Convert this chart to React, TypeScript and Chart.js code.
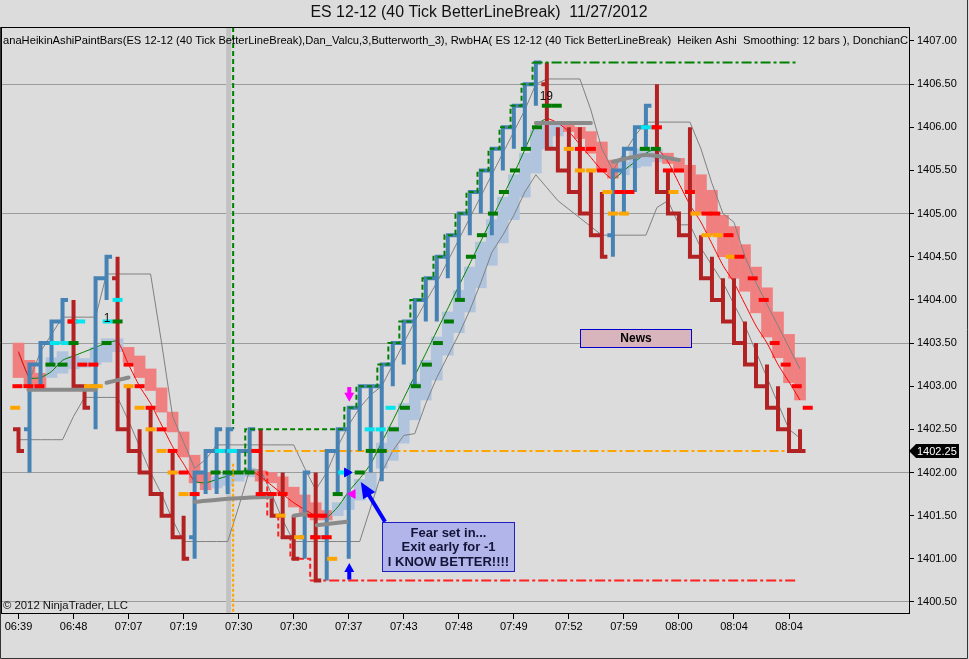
import React, { useEffect, useRef } from "react";
import { Chart, registerables } from "chart.js";

Chart.register(...registerables);

const FONT = '"Liberation Sans", Arial, sans-serif';
const BG = "#DCDCDC";

const X_MIN = -1.59;
const X_MAX = 80.9;
const Y_MIN = 1400.372;
const Y_MAX = 1407.162;

const TITLE = "ES 12-12 (40 Tick BetterLineBreak)  11/27/2012";
const CAPTION =
  "anaHeikinAshiPaintBars(ES 12-12 (40 Tick BetterLineBreak),Dan_Valcu,3,Butterworth_3), RwbHA( ES 12-12 (40 Tick BetterLineBreak)  Heiken Ashi  Smoothing: 12 bars ), DonchianC";
const COPYRIGHT = "\u00A9 2012 NinjaTrader, LLC";

const timeLabels = ["06:39", "06:48", "07:07", "07:19", "07:30", "07:30", "07:37", "07:43", "07:48", "07:49", "07:52", "07:59", "08:00", "08:04", "08:04"];
const timeTickBars = [0, 5, 10, 15, 20, 25, 30, 35, 40, 45, 50, 55, 60, 65, 70];
const priceTicks = [1400.5, 1401.0, 1401.5, 1402.0, 1402.5, 1403.0, 1403.5, 1404.0, 1404.5, 1405.0, 1405.5, 1406.0, 1406.5, 1407.0];
const gridPrices = [1400.5, 1402.0, 1403.5, 1405.0, 1406.5];
const lastPrice = 1402.25;

// Line-break bars (OHLC)
const barOpen = [
  1402.5, 1402.5, 1403.25, 1403.5, 1403.75, 1403.75, 1403.0, 1403.0, 1404.25, 1404.25,
  1402.5, 1402.25, 1402.0, 1401.75, 1401.5, 1401.25, 1401.25, 1402.0, 1402.25, 1402.25,
  1402.25, 1402.25, 1402.25, 1401.75, 1401.5, 1401.25, 1401.25, 1401.25, 1401.25, 1402.25,
  1402.5, 1402.75, 1403.0, 1403.0, 1403.25, 1403.5, 1403.75, 1404.0, 1404.25, 1404.5,
  1404.75, 1405.0, 1405.25, 1405.5, 1405.75, 1406.0, 1406.25, 1406.5, 1406.5, 1405.75,
  1405.5, 1405.25, 1405.0, 1404.75, 1404.75, 1405.5, 1405.75, 1406.0, 1406.0, 1405.25,
  1405.0, 1404.75, 1404.5, 1404.25, 1404.0, 1403.75, 1403.5, 1403.25, 1403.0, 1402.75,
  1402.5, 1402.25,
];
const barHigh = [
  1402.5, 1403.25, 1403.5, 1403.75, 1404.0, 1404.0, 1403.0, 1404.25, 1404.5, 1404.5,
  1403.0, 1402.5, 1402.75, 1401.75, 1402.25, 1401.5, 1402.0, 1402.25, 1402.5, 1402.5,
  1402.25, 1402.5, 1402.5, 1401.75, 1402.0, 1401.5, 1402.0, 1402.0, 1402.25, 1402.5,
  1402.75, 1403.0, 1403.0, 1403.25, 1403.5, 1403.75, 1404.0, 1404.25, 1404.5, 1404.75,
  1405.0, 1405.25, 1405.5, 1405.75, 1406.0, 1406.25, 1406.5, 1406.75, 1406.75, 1406.0,
  1406.0, 1406.0, 1405.5, 1405.25, 1405.5, 1405.75, 1406.0, 1406.25, 1406.5, 1405.5,
  1405.0, 1406.0, 1404.75, 1404.5, 1404.25, 1404.25, 1403.75, 1403.5, 1403.25, 1403.0,
  1402.75, 1402.5,
];
const barLow = [
  1402.25, 1402.0, 1403.0, 1403.25, 1403.5, 1403.0, 1402.75, 1402.5, 1404.0, 1402.5,
  1402.25, 1402.0, 1401.75, 1401.5, 1401.25, 1401.0, 1401.0, 1401.75, 1401.75, 1401.75,
  1402.0, 1402.0, 1401.75, 1401.5, 1401.25, 1401.0, 1401.0, 1400.75, 1400.75, 1401.75,
  1401.0, 1402.25, 1402.0, 1401.9, 1403.0, 1403.25, 1403.0, 1403.75, 1403.75, 1404.25,
  1404.0, 1404.75, 1405.0, 1404.75, 1405.5, 1405.75, 1405.75, 1406.25, 1405.75, 1405.5,
  1405.25, 1405.0, 1404.75, 1404.5, 1404.5, 1405.0, 1405.25, 1405.75, 1405.25, 1405.0,
  1404.75, 1404.5, 1404.25, 1404.0, 1403.75, 1403.5, 1403.25, 1403.0, 1402.75, 1402.5,
  1402.25, 1402.25,
];
const barClose = [
  1402.25, 1403.25, 1403.5, 1403.75, 1404.0, 1403.0, 1402.75, 1404.25, 1404.5, 1402.5,
  1402.25, 1402.0, 1401.75, 1401.5, 1401.25, 1401.0, 1402.0, 1402.25, 1402.5, 1402.5,
  1402.25, 1402.5, 1401.75, 1401.5, 1401.25, 1401.0, 1402.0, 1400.75, 1402.25, 1402.5,
  1402.75, 1403.0, 1403.0, 1403.25, 1403.5, 1403.75, 1404.0, 1404.25, 1404.5, 1404.75,
  1405.0, 1405.25, 1405.5, 1405.75, 1406.0, 1406.25, 1406.5, 1406.75, 1405.75, 1405.5,
  1405.25, 1405.0, 1404.75, 1404.5, 1405.5, 1405.75, 1406.0, 1406.25, 1405.25, 1405.0,
  1404.75, 1404.5, 1404.25, 1404.0, 1403.75, 1403.5, 1403.25, 1403.0, 1402.75, 1402.5,
  1402.25, 1402.25,
];
const barUp = [
  0, 1, 1, 1, 1, 0, 0, 1, 1, 0,
  0, 0, 0, 0, 0, 0, 1, 1, 1, 1,
  1, 1, 0, 0, 0, 0, 1, 0, 1, 1,
  1, 1, 1, 1, 1, 1, 1, 1, 1, 1,
  1, 1, 1, 1, 1, 1, 1, 1, 0, 0,
  0, 0, 0, 0, 1, 1, 1, 1, 0, 0,
  0, 0, 0, 0, 0, 0, 0, 0, 0, 0,
  0, 0,
];

// Smoothed Heiken Ashi boxes
const haLow = [
  1403.1, 1403.0, 1402.95, 1403.1, 1403.15, 1403.2, 1403.22, 1403.25, 1403.28, 1403.4,
  1403.28, 1403.1, 1402.95, 1402.7, 1402.47, 1402.18, 1401.88, 1401.8, 1401.82, 1401.85,
  1401.9, 1401.95, 1401.9, 1401.88, 1401.75, 1401.6, 1401.53, 1401.45, 1401.45, 1401.5,
  1401.57, 1401.68, 1401.76, 1402.05, 1402.14, 1402.34, 1402.61, 1402.84, 1403.07, 1403.36,
  1403.62, 1403.86, 1404.14, 1404.4, 1404.66, 1404.93, 1405.19, 1405.47, 1405.75, 1405.9,
  1405.95, 1405.87, 1405.7, 1405.5, 1405.41, 1405.45, 1405.53, 1405.55, 1405.6, 1405.58,
  1405.48, 1405.27, 1405.0, 1404.75, 1404.5, 1404.25, 1404.1, 1403.85, 1403.57, 1403.33,
  1403.04, 1402.84,
];
const haHigh = [
  1403.5, 1403.3, 1403.15, 1403.33, 1403.4, 1403.35, 1403.32, 1403.45, 1403.55, 1403.55,
  1403.45, 1403.35, 1403.2, 1402.98, 1402.7, 1402.47, 1402.2, 1402.0, 1401.95, 1401.98,
  1402.0, 1402.05, 1402.02, 1402.0, 1401.95, 1401.83, 1401.74, 1401.65, 1401.56, 1401.65,
  1401.72, 1401.92, 1401.99, 1402.34, 1402.53, 1402.8, 1403.04, 1403.3, 1403.57, 1403.86,
  1404.11, 1404.38, 1404.67, 1404.93, 1405.19, 1405.45, 1405.7, 1405.97, 1406.05, 1406.05,
  1406.05, 1406.0, 1405.95, 1405.83, 1405.62, 1405.6, 1405.75, 1405.77, 1405.75, 1405.7,
  1405.64, 1405.56, 1405.45, 1405.27, 1404.98, 1404.85, 1404.64, 1404.38, 1404.14, 1403.86,
  1403.6, 1403.33,
];
const haUp = [
  0, 0, 0, 1, 1, 1, 1, 1, 1, 1,
  0, 0, 0, 0, 0, 0, 0, 0, 1, 1,
  1, 1, 0, 0, 0, 0, 0, 0, 0, 1,
  1, 1, 1, 1, 1, 1, 1, 1, 1, 1,
  1, 1, 1, 1, 1, 1, 1, 1, 1, 1,
  0, 0, 0, 0, 0, 1, 1, 1, 1, 0,
  0, 0, 0, 0, 0, 0, 0, 0, 0, 0,
  0, 0,
];

// Donchian channel
const donchianUpper = [
  1403.38, 1403.07, 1403.4, 1403.6, 1403.8, 1403.8, 1403.8, 1403.8, 1404.3, 1404.3,
  1404.3, 1404.3, 1404.3, 1403.5, 1402.65, 1402.35, 1402.05, 1402.15, 1402.32, 1402.32,
  1402.32, 1402.32, 1402.32, 1402.32, 1402.32, 1402.32, 1402.05, 1401.8, 1402.0, 1402.3,
  1402.55, 1402.75, 1402.9, 1403.0, 1403.25, 1403.5, 1403.75, 1403.98, 1404.2, 1404.45,
  1404.7, 1404.95, 1405.2, 1405.45, 1405.7, 1405.95, 1406.2, 1406.5, 1406.56, 1406.56,
  1406.56, 1406.56, 1406.2, 1405.75, 1405.5, 1405.7, 1405.9, 1406.06, 1406.06, 1406.06,
  1406.06, 1406.06, 1405.75, 1405.35, 1405.0, 1404.9, 1404.5, 1404.2, 1403.95, 1403.7,
  1403.45, 1403.2,
];
const donchianLower = [
  1402.38, 1402.38, 1402.38, 1402.38, 1402.38, 1402.65, 1402.87, 1402.87, 1402.87, 1402.87,
  1402.6, 1402.3, 1402.0, 1401.75, 1401.45, 1401.2, 1401.2, 1401.2, 1401.2, 1401.2,
  1401.6, 1402.03, 1402.03, 1401.75, 1401.45, 1401.2, 1401.2, 1401.2, 1401.2, 1401.2,
  1401.2, 1401.2, 1401.6, 1402.0, 1402.25, 1402.43, 1402.45, 1402.8, 1403.1, 1403.35,
  1403.6, 1403.88, 1404.2, 1404.55, 1404.75, 1404.98, 1405.25, 1405.45, 1405.3, 1405.15,
  1405.05, 1404.95, 1404.85, 1404.75, 1404.75, 1404.75, 1404.75, 1404.75, 1405.07, 1405.15,
  1404.87, 1404.87, 1404.6, 1404.4, 1404.2, 1403.95, 1403.7, 1403.4, 1403.1, 1402.8,
  1402.5, 1402.4,
];

// Butterworth smoothing line
const maValues = [
  1403.4, 1403.1, 1403.1, 1403.17, 1403.3, 1403.35, 1403.4, 1403.45, 1403.5, 1403.52,
  1403.25, 1403.0, 1402.8, 1402.55, 1402.3, 1402.1, 1401.9, 1401.88, 1401.92, 1401.96,
  1402.0, 1402.03, 1401.95, 1401.85, 1401.75, 1401.65, 1401.57, 1401.5, 1401.48, 1401.6,
  1401.78, 1401.93, 1402.1, 1402.35, 1402.6, 1402.86, 1403.12, 1403.38, 1403.64, 1403.9,
  1404.16, 1404.42, 1404.68, 1404.94, 1405.2, 1405.46, 1405.74, 1406.02, 1406.1, 1406.05,
  1405.95, 1405.8, 1405.65, 1405.5, 1405.4, 1405.5, 1405.6, 1405.7, 1405.75, 1405.6,
  1405.35, 1405.1, 1404.9, 1404.65, 1404.4, 1404.2, 1403.95, 1403.7, 1403.5, 1403.25,
  1403.05, 1402.84,
];
const maUp = [
  0, 0, 1, 1, 1, 1, 1, 1, 1, 1,
  0, 0, 0, 0, 0, 0, 0, 1, 1, 1,
  1, 1, 0, 0, 0, 0, 0, 0, 0, 1,
  1, 1, 1, 1, 1, 1, 1, 1, 1, 1,
  1, 1, 1, 1, 1, 1, 1, 1, 1, 0,
  0, 0, 0, 0, 0, 1, 1, 1, 1, 0,
  0, 0, 0, 0, 0, 0, 0, 0, 0, 0,
  0, 0,
];

// Thick gray pivot segments [bar, price]
const pivotSegments = [
  [[0.9, 1402.96], [7.0, 1402.96]],
  [[8.0, 1403.04], [10.0, 1403.1]],
  [[16.0, 1401.66], [19.5, 1401.7], [23.0, 1401.72]],
  [[25.0, 1401.5], [26.2, 1401.52]],
  [[27.1, 1401.39], [29.8, 1401.43]],
  [[47.0, 1406.05], [52.0, 1406.05]],
  [[54.0, 1405.6], [57.0, 1405.68], [60.0, 1405.62]],
];

// Trailing stops (stepped)
const greenStopX = [20.6, 20.6, 29.6, 30.7, 32.6, 33.6, 34.6, 35.6, 36.7, 37.7, 38.7, 39.7, 40.7, 41.7, 42.7, 43.7, 44.7, 45.7, 46.7, 70.8];
const greenStopY = [1402.0, 1402.5, 1402.75, 1403.0, 1403.25, 1403.5, 1403.75, 1404.0, 1404.25, 1404.5, 1404.75, 1405.0, 1405.25, 1405.5, 1405.75, 1406.0, 1406.25, 1406.5, 1406.75, 1406.75];
const redStopX = [21.7, 22.6, 23.6, 24.7, 26.5, 70.8];
const redStopY = [1402.0, 1401.5, 1401.25, 1401.0, 1400.75, 1400.75];
const orangeLineX = [20.8, 70.8];
const orangeLineY = [1402.25, 1402.25];

// Vertical markers
const highlightBar = 19.09;
const timeMarkBar = 19.5;
const timeMarkSplit = [1402.5, 1402.1];

// Small stop dashes [bar, price]
const greenMarks = [
  [2.9, 1403.25], [4.0, 1403.25], [5.0, 1403.5], [8.0, 1403.5], [9.0, 1403.75],
  [17.9, 1402.0], [19.0, 1402.0], [20.0, 1402.0], [21.0, 1402.0],
  [29.0, 1401.75], [31.0, 1402.0], [32.0, 1402.25], [33.0, 1402.25],
  [34.1, 1402.5], [35.1, 1402.75], [36.1, 1403.0], [37.1, 1403.25], [38.1, 1403.5], [39.1, 1403.75],
  [40.1, 1404.0], [41.1, 1404.5], [42.1, 1404.75], [43.1, 1405.0], [44.1, 1405.25], [45.1, 1405.5],
  [46.1, 1405.75], [47.1, 1406.0], [48.0, 1406.25], [48.9, 1406.25],
  [56.9, 1405.75], [57.9, 1405.75],
];
const cyanMarks = [
  [3.3, 1403.5], [4.3, 1403.5], [5.6, 1403.75], [8.1, 1403.75], [9.0, 1404.0],
  [18.3, 1402.25], [19.4, 1402.25], [29.5, 1402.0],
  [31.9, 1402.5], [32.9, 1402.5], [33.8, 1402.75], [57.0, 1406.0],
];
const redMarks = [
  [-0.1, 1403.0], [0.9, 1403.0], [1.9, 1403.0], [4.9, 1403.75], [5.8, 1403.25], [6.8, 1403.25],
  [10.0, 1403.25], [11.0, 1403.0], [12.0, 1402.75], [13.0, 1402.5], [14.0, 1402.25], [15.0, 1402.0], [16.0, 1401.75],
  [21.6, 1402.25], [22.0, 1401.75], [23.0, 1401.75], [24.0, 1401.75],
  [26.7, 1401.5], [27.6, 1401.5], [27.0, 1401.25], [28.0, 1401.25],
  [51.0, 1405.75], [52.0, 1405.75], [53.0, 1405.5], [54.6, 1405.25], [55.5, 1405.25], [58.0, 1406.0],
  [59.0, 1405.5], [60.0, 1405.5], [61.0, 1405.25], [62.5, 1405.0], [63.3, 1405.0], [64.5, 1404.75], [65.5, 1404.5],
  [66.7, 1404.25], [67.7, 1404.0], [68.7, 1403.5], [69.7, 1403.25], [70.7, 1403.0], [71.7, 1402.75],
];
const orangeMarks = [
  [-0.3, 1402.75], [6.4, 1403.0], [7.2, 1403.0],
  [10.0, 1403.0], [11.0, 1402.75], [12.0, 1402.5], [13.0, 1402.25], [14.0, 1402.0], [15.0, 1401.75],
  [23.8, 1401.5], [25.5, 1401.25], [28.5, 1401.0],
  [50.0, 1405.75], [51.0, 1405.5], [52.0, 1405.5], [53.5, 1405.25], [54.0, 1405.0], [55.0, 1405.0],
  [59.5, 1405.25], [61.5, 1405.0], [62.5, 1404.75], [63.5, 1404.75], [64.7, 1404.5],
];
const blueRightTriangles = [[29.85, 1402.0]];
const magentaLeftTriangles = [[30.35, 1401.75]];

// Annotation anchors (bar, price)
const newsBox = { x1: 51.05, x2: 61.05, y1: 1403.66, y2: 1403.45, text: "News" };
const fearBox = { x1: 33.05, x2: 45.05, y1: 1401.43, y2: 1400.86, lines: ["Fear set in...", "Exit early for -1", "I KNOW BETTER!!!!"] };
const fearArrow = { x1: 33.3, y1: 1401.43, x2: 31.1, y2: 1401.89 };
const magentaArrow = { x: 30.05, y1: 1402.99, y2: 1402.82 };
const blueArrow = { x: 30.05, y1: 1400.76, y2: 1400.95 };
const barCountLabels = [
  { x: 8.05, y: 1403.78, text: "1" },
  { x: 47.95, y: 1406.36, text: "19" },
];

const COLORS = {
  blueBar: "#4682B4",
  redBar: "#B22222",
  haBlue: "#B0C4DE",
  haPink: "#F08080",
  maGreen: "#008000",
  maRed: "#FF0000",
  donchian: "#808080",
  pivot: "#8A8A8A",
  trailGreen: "#008000",
  trailRed: "#FF2020",
  orange: "#FFA500",
  grid: "#9C9C9C",
  band: "#C2C2C2",
  mGreen: "#007A00",
  mCyan: "#00E5EE",
  mRed: "#FF0000",
  mOrange: "#FFA500",
};

function ohlcPoints(up: number) {
  const pts: any[] = [];
  for (let k = 0; k < barOpen.length; k++) {
    if (barUp[k] !== up) continue;
    pts.push(
      { x: k - 0.5, y: barOpen[k] },
      { x: k, y: barOpen[k] },
      { x: k, y: barHigh[k] },
      { x: k, y: barLow[k] },
      { x: k, y: barClose[k] },
      { x: k + 0.5, y: barClose[k] },
      { x: k + 0.5, y: null }
    );
  }
  return pts;
}

function segmentPoints(segs: number[][][]) {
  const pts: any[] = [];
  segs.forEach((seg) => {
    seg.forEach((p) => pts.push({ x: p[0], y: p[1] }));
    pts.push({ x: seg[seg.length - 1][0], y: null });
  });
  return pts;
}

function xy(xsArr: number[], ysArr: number[]) {
  return xsArr.map((x, i) => ({ x, y: ysArr[i] }));
}

function markDataset(marks: number[][], color: string) {
  return {
    type: "scatter",
    data: marks.map((m) => ({ x: m[0], y: m[1] })),
    pointStyle: "line",
    pointRadius: 5,
    pointBorderWidth: 4,
    pointBorderColor: color,
    pointBackgroundColor: color,
    borderColor: color,
    showLine: false,
    order: 1,
  };
}

function drawFitted(ctx: any, text: string, x: number, y: number, width: number, font: string, align: string, color: string) {
  ctx.save();
  ctx.font = font;
  const w = ctx.measureText(text).width;
  const sx = w > 0 ? width / w : 1;
  ctx.translate(x, y);
  ctx.scale(sx, 1);
  ctx.textAlign = align;
  ctx.textBaseline = "middle";
  ctx.fillStyle = color;
  ctx.fillText(text, 0, 0);
  ctx.restore();
}

function drawArrow(ctx: any, x1: number, y1: number, x2: number, y2: number, color: string, width: number, head: number, headW: number) {
  const ang = Math.atan2(y2 - y1, x2 - x1);
  const c = Math.cos(ang);
  const s = Math.sin(ang);
  ctx.save();
  ctx.strokeStyle = color;
  ctx.fillStyle = color;
  ctx.lineWidth = width;
  ctx.lineCap = "butt";
  ctx.beginPath();
  ctx.moveTo(x1, y1);
  ctx.lineTo(x2 - c * head * 0.9, y2 - s * head * 0.9);
  ctx.stroke();
  ctx.beginPath();
  ctx.moveTo(x2, y2);
  ctx.lineTo(x2 - c * head + s * headW / 2, y2 - s * head - c * headW / 2);
  ctx.lineTo(x2 - c * head - s * headW / 2, y2 - s * head + c * headW / 2);
  ctx.closePath();
  ctx.fill();
  ctx.restore();
}

const decorPlugin = {
  id: "decor",
  beforeDraw(chart: any) {
    const { ctx, width, height } = chart;
    ctx.save();
    ctx.fillStyle = BG;
    ctx.fillRect(0, 0, width, height);
    ctx.restore();
  },
  afterDraw(chart: any) {
    const { ctx, chartArea: a, width, height } = chart;
    const xs = chart.scales.x;
    const ys = chart.scales.y;
    const px = (v: number) => xs.getPixelForValue(v);
    const py = (v: number) => ys.getPixelForValue(v);

    ctx.save();
    // plot frame
    ctx.strokeStyle = "#000";
    ctx.lineWidth = 1;
    ctx.strokeRect(Math.round(a.left) + 0.5, Math.round(a.top) + 0.5, Math.round(a.right - a.left), Math.round(a.bottom - a.top));
    // window border
    ctx.strokeStyle = "#333";
    ctx.beginPath();
    ctx.moveTo(0.5, a.top);
    ctx.lineTo(0.5, height - 0.5);
    ctx.lineTo(width - 1.5, height - 0.5);
    ctx.lineTo(width - 1.5, 0);
    ctx.stroke();

    // title
    drawFitted(ctx, TITLE, 479, 13, 337, "16px " + FONT, "center", "#111");

    // caption and copyright, clipped to plot
    ctx.save();
    ctx.beginPath();
    ctx.rect(a.left, a.top, a.right - a.left, a.bottom - a.top);
    ctx.clip();
    drawFitted(ctx, CAPTION, 3, 41, 905, "11px " + FONT, "left", "#000");
    drawFitted(ctx, COPYRIGHT, 3, 606, 125, "11px " + FONT, "left", "#111");

    // bar count labels
    ctx.font = "12px " + FONT;
    ctx.fillStyle = "#111";
    ctx.textAlign = "center";
    ctx.textBaseline = "middle";
    barCountLabels.forEach((l) => ctx.fillText(l.text, px(l.x), py(l.y)));

    // News box
    {
      const x1 = Math.round(px(newsBox.x1)) + 0.5;
      const x2 = Math.round(px(newsBox.x2)) + 0.5;
      const y1 = Math.round(py(newsBox.y1)) + 0.5;
      const y2 = Math.round(py(newsBox.y2)) + 0.5;
      ctx.fillStyle = "#D8B4BC";
      ctx.fillRect(x1, y1, x2 - x1, y2 - y1);
      ctx.strokeStyle = "#0000CC";
      ctx.lineWidth = 1;
      ctx.strokeRect(x1, y1, x2 - x1, y2 - y1);
      ctx.font = "bold 12px " + FONT;
      ctx.fillStyle = "#000";
      ctx.textAlign = "center";
      ctx.textBaseline = "middle";
      ctx.fillText(newsBox.text, (x1 + x2) / 2, (y1 + y2) / 2 + 0.5);
    }

    // Fear box
    {
      const x1 = Math.round(px(fearBox.x1)) + 0.5;
      const x2 = Math.round(px(fearBox.x2)) + 0.5;
      const y1 = Math.round(py(fearBox.y1)) + 0.5;
      const y2 = Math.round(py(fearBox.y2)) + 0.5;
      ctx.fillStyle = "#B1B5EA";
      ctx.fillRect(x1, y1, x2 - x1, y2 - y1);
      ctx.strokeStyle = "#2020C0";
      ctx.lineWidth = 1;
      ctx.strokeRect(x1, y1, x2 - x1, y2 - y1);
      ctx.font = "bold 13px " + FONT;
      ctx.fillStyle = "#141438";
      ctx.textAlign = "center";
      ctx.textBaseline = "middle";
      const cx = (x1 + x2) / 2;
      fearBox.lines.forEach((t, i) => ctx.fillText(t, cx, y1 + 10.5 + i * 14.5));
    }

    // arrows
    drawArrow(ctx, px(fearArrow.x1), py(fearArrow.y1), px(fearArrow.x2), py(fearArrow.y2), "#0000FF", 4, 16, 14);
    drawArrow(ctx, px(magentaArrow.x), py(magentaArrow.y1), px(magentaArrow.x), py(magentaArrow.y2), "#FF00FF", 4, 9, 10);
    drawArrow(ctx, px(blueArrow.x), py(blueArrow.y1), px(blueArrow.x), py(blueArrow.y2), "#0000FF", 4, 9, 10);
    ctx.restore();

    // last price tag
    {
      const y = Math.round(py(lastPrice));
      const x0 = Math.round(a.right);
      ctx.fillStyle = "#000";
      ctx.beginPath();
      ctx.moveTo(x0, y);
      ctx.lineTo(x0 + 7, y - 7);
      ctx.lineTo(x0 + 50, y - 7);
      ctx.lineTo(x0 + 50, y + 7);
      ctx.lineTo(x0 + 7, y + 7);
      ctx.closePath();
      ctx.fill();
      ctx.font = "11px " + FONT;
      ctx.fillStyle = "#FFF";
      ctx.textAlign = "left";
      ctx.textBaseline = "middle";
      ctx.fillText(lastPrice.toFixed(2), x0 + 8, y + 0.5);
    }
    ctx.restore();
  },
};

function buildConfig(): any {
  const datasets: any[] = [
    markDataset(greenMarks, COLORS.mGreen),
    markDataset(cyanMarks, COLORS.mCyan),
    markDataset(redMarks, COLORS.mRed),
    markDataset(orangeMarks, COLORS.mOrange),
    {
      type: "scatter",
      data: blueRightTriangles.map((m) => ({ x: m[0], y: m[1] })),
      pointStyle: "triangle",
      rotation: 90,
      pointRadius: 5,
      pointBackgroundColor: "#0000FF",
      pointBorderColor: "#0000FF",
      pointBorderWidth: 1,
      order: 0,
    },
    {
      type: "scatter",
      data: magentaLeftTriangles.map((m) => ({ x: m[0], y: m[1] })),
      pointStyle: "triangle",
      rotation: -90,
      pointRadius: 5,
      pointBackgroundColor: "#FF00FF",
      pointBorderColor: "#FF00FF",
      pointBorderWidth: 1,
      order: 0,
    },
    {
      type: "line",
      data: xy(greenStopX, greenStopY),
      borderColor: COLORS.trailGreen,
      borderWidth: 2,
      borderDash: [5, 3],
      stepped: "before",
      pointRadius: 0,
      segment: {
        borderDash: (c: any) => (c.p1DataIndex === greenStopX.length - 1 ? [10, 3, 3, 3] : [5, 3]),
      },
      order: 2,
    },
    {
      type: "line",
      data: segmentPoints(pivotSegments),
      borderColor: COLORS.pivot,
      borderWidth: 4,
      borderCapStyle: "round",
      pointRadius: 0,
      spanGaps: false,
      tension: 0.3,
      order: 2,
    },
    {
      type: "line",
      data: ohlcPoints(1),
      borderColor: COLORS.blueBar,
      borderWidth: 4,
      borderJoinStyle: "miter",
      borderCapStyle: "butt",
      pointRadius: 0,
      spanGaps: false,
      tension: 0,
      order: 3,
    },
    {
      type: "line",
      data: ohlcPoints(0),
      borderColor: COLORS.redBar,
      borderWidth: 4,
      borderJoinStyle: "miter",
      borderCapStyle: "butt",
      pointRadius: 0,
      spanGaps: false,
      tension: 0,
      order: 3,
    },
    {
      type: "line",
      data: xy(redStopX, redStopY),
      borderColor: COLORS.trailRed,
      borderWidth: 2,
      stepped: "before",
      pointRadius: 0,
      segment: {
        borderDash: (c: any) => (c.p1DataIndex === redStopX.length - 1 ? [10, 3, 3, 3] : [5, 3]),
      },
      order: 4,
    },
    {
      type: "line",
      data: xy(orangeLineX, orangeLineY),
      borderColor: COLORS.orange,
      borderWidth: 2,
      borderDash: [9, 3, 3, 3],
      pointRadius: 0,
      order: 4,
    },
    {
      type: "line",
      data: [
        { x: timeMarkBar, y: Y_MAX },
        { x: timeMarkBar, y: timeMarkSplit[0] },
      ],
      borderColor: COLORS.trailGreen,
      borderWidth: 2,
      borderDash: [5, 3],
      pointRadius: 0,
      order: 4,
    },
    {
      type: "line",
      data: [
        { x: timeMarkBar, y: timeMarkSplit[1] },
        { x: timeMarkBar, y: Y_MIN },
      ],
      borderColor: COLORS.orange,
      borderWidth: 2,
      borderDash: [3, 2],
      pointRadius: 0,
      order: 4,
    },
    {
      type: "line",
      data: maValues.map((v, k) => ({ x: k, y: v })),
      borderColor: COLORS.maGreen,
      borderWidth: 1,
      pointRadius: 0,
      tension: 0.2,
      segment: {
        borderColor: (c: any) => (maUp[c.p1DataIndex] ? COLORS.maGreen : COLORS.maRed),
      },
      order: 5,
    },
    {
      type: "line",
      data: donchianUpper.map((v, k) => ({ x: k, y: v })),
      borderColor: COLORS.donchian,
      borderWidth: 1,
      pointRadius: 0,
      order: 6,
    },
    {
      type: "line",
      data: donchianLower.map((v, k) => ({ x: k, y: v })),
      borderColor: COLORS.donchian,
      borderWidth: 1,
      pointRadius: 0,
      order: 6,
    },
    {
      type: "bar",
      data: haLow.map((lo, k) => ({ x: k, y: [lo, haHigh[k]] })),
      backgroundColor: haUp.map((u) => (u ? COLORS.haBlue : COLORS.haPink)),
      borderWidth: 0,
      barPercentage: 1,
      categoryPercentage: 1,
      order: 8,
    },
    {
      type: "line",
      data: [
        { x: highlightBar, y: Y_MIN },
        { x: highlightBar, y: Y_MAX },
      ],
      borderColor: COLORS.band,
      borderWidth: 5,
      pointRadius: 0,
      order: 9,
    },
  ];

  return {
    type: "line",
    data: { datasets },
    plugins: [decorPlugin],
    options: {
      responsive: false,
      maintainAspectRatio: false,
      devicePixelRatio: 1,
      animation: false,
      events: [],
      layout: { autoPadding: false, padding: { top: 27, left: 1, right: 2, bottom: 0 } },
      plugins: {
        legend: { display: false },
        tooltip: { enabled: false },
        title: { display: false },
      },
      scales: {
        x: {
          type: "linear",
          position: "bottom",
          min: X_MIN,
          max: X_MAX,
          offset: false,
          afterBuildTicks: (s: any) => {
            s.ticks = timeTickBars.map((v) => ({ value: v }));
          },
          afterFit: (s: any) => {
            s.height = 46;
            s.paddingLeft = 0;
            s.paddingRight = 0;
          },
          ticks: {
            autoSkip: false,
            maxRotation: 0,
            minRotation: 0,
            padding: 1,
            color: "#000",
            font: { family: FONT, size: 11 },
            callback: (_v: any, i: number) => timeLabels[i] ?? "",
          },
          grid: {
            offset: false,
            drawOnChartArea: false,
            drawTicks: true,
            tickLength: 6,
            tickColor: "#000",
            color: "#000",
          },
          border: { display: true, color: "#000", width: 1 },
        },
        y: {
          type: "linear",
          position: "right",
          min: Y_MIN,
          max: Y_MAX,
          afterBuildTicks: (s: any) => {
            s.ticks = priceTicks.map((v) => ({ value: v }));
          },
          afterFit: (s: any) => {
            s.width = 58;
            s.paddingTop = 0;
            s.paddingBottom = 0;
          },
          ticks: {
            padding: 3,
            color: "#000",
            font: { family: FONT, size: 11 },
            callback: (v: any) => Number(v).toFixed(2),
          },
          grid: {
            color: (c: any) =>
              c.tick && gridPrices.some((g) => Math.abs(g - c.tick.value) < 1e-6) ? COLORS.grid : "rgba(0,0,0,0)",
            tickColor: "#000",
            tickLength: 5,
            drawTicks: true,
            lineWidth: 1,
          },
          border: { display: true, color: "#000", width: 1 },
        },
      },
    },
  };
}

export default function App() {
  const canvasRef = useRef<HTMLCanvasElement | null>(null);

  useEffect(() => {
    const canvas = canvasRef.current;
    if (!canvas) return;
    const chart = new Chart(canvas, buildConfig());
    return () => {
      chart.destroy();
    };
  }, []);

  return (
    <div
      style={{
        position: "fixed",
        left: 0,
        top: 0,
        width: 969,
        height: 659,
        background: BG,
        overflow: "hidden",
      }}
    >
      <canvas ref={canvasRef} width={969} height={659} style={{ display: "block", width: 969, height: 659 }} />
    </div>
  );
}
